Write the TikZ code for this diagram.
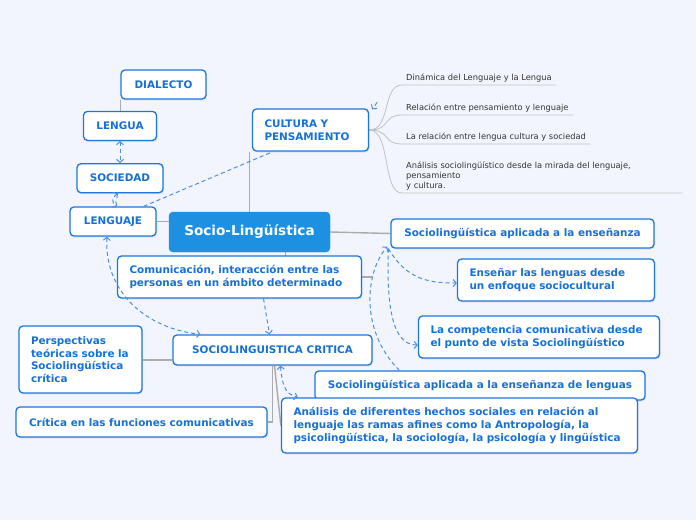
\documentclass[tikz,border=0pt]{standalone}
\usepackage{fontspec}
\setmainfont{DejaVu Sans}
\usetikzlibrary{arrows.meta,positioning,backgrounds,shadows}
\definecolor{pagebg}{HTML}{F2F5FD}
\definecolor{boxborder}{HTML}{1B77DD}
\definecolor{boxtext}{HTML}{1570DA}
\definecolor{rootfill}{HTML}{1E90E2}
\definecolor{relline}{HTML}{4A8FE2}
\definecolor{branchc}{HTML}{ABABAB}
\definecolor{leafline}{HTML}{C2C2C2}
\definecolor{leaftext}{HTML}{333333}

\begin{document}
\begin{tikzpicture}[
  x=1pt, y=-1pt,
  >={Straight Barb[length=3pt,width=7pt,line width=1pt]},
  topic/.style={
    draw=boxborder,
    fill=white,
    line width=1.3pt,
    rounded corners=4pt,
    text=boxtext,
    font=\fontsize{10.4}{12.6}\selectfont\bfseries,
    inner xsep=12pt,
    inner ysep=0pt,
    minimum height=29pt,
    align=center,
    drop shadow={opacity=0.15, shadow xshift=1pt, shadow yshift=-1.5pt}
  },
  multi/.style={
    topic,
    align=left,
    text width=#1
  },
  root/.style={
    draw=rootfill,
    fill=rootfill,
    rounded corners=4pt,
    text=white,
    font=\fontsize{13.6}{16}\selectfont\bfseries,
    minimum width=161pt,
    minimum height=40pt
  },
  leaf/.style={
    anchor=south west,
    font=\fontsize{8.3}{10}\selectfont,
    text=leaftext,
    inner xsep=4pt,
    inner ysep=3pt,
    align=left
  },
  rel/.style={
    draw=relline,
    line width=1pt,
    dash pattern=on 4pt off 3pt
  },
  branch/.style={
    draw=branchc,
    line width=1.4pt
  },
  twig/.style={
    draw=leafline,
    line width=0.8pt
  }
]

% --- Root ---
\node[root] (central) at (249.5,232) {Socio-Lingüística};

% --- Left column ---
\node[topic, minimum width=86pt] (lenguaje) at (113,221.5) {LENGUAJE};
\node[topic, minimum width=86pt, above=13pt of lenguaje, xshift=7pt] (sociedad) {SOCIEDAD};
\node[topic, minimum width=73pt, above=22pt of sociedad] (lengua) {LENGUA};
\node[topic, minimum width=85pt] (dialecto) at (163.5,84.5) {DIALECTO};

% --- Cultura y pensamiento ---
\node[multi=92pt, minimum height=42pt] (cultura) at (310.5,130) {CULTURA Y\\PENSAMIENTO};

\node[leaf] (leafA) at (402,85) {Dinámica del Lenguaje y la Lengua};
\node[leaf] (leafB) at (402,115) {Relación entre pensamiento y lenguaje};
\node[leaf] (leafC) at (402,144) {La relación entre lengua cultura y sociedad};
\node[leaf, text width=272pt] (leafD) at (402,193)
  {Análisis sociolingüístico desde la mirada del lenguaje,\\pensamiento\\y cultura.};

% --- Centre column ---
\node[multi=220pt, minimum height=42pt] (comunic) at (239.5,277)
  {Comunicación, interacción entre las\\personas en un ámbito determinado};
\node[topic, minimum width=199pt, minimum height=30pt] (critica) at (272.5,350) {SOCIOLINGUISTICA CRITICA};
\node[multi=99pt, minimum height=67pt] (perspect) at (80.5,359.5)
  {Perspectivas\\teóricas sobre la\\Sociolingüística\\crítica};
\node[topic, minimum width=251pt, minimum height=30pt] (funciones) at (141.5,422)
  {Crítica en las funciones comunicativas};

% --- Right column ---
\node[topic, minimum width=263pt] (aplic) at (522.5,233.5) {Sociolingüística aplicada a la enseñanza};
\node[multi=173pt, minimum height=42pt] (ensenar) at (556,280)
  {Enseñar las lenguas desde\\un enfoque sociocultural};
\node[multi=217pt, minimum height=42pt] (competencia) at (539,337)
  {La competencia comunicativa desde\\el punto de vista Sociolingüístico};
\node[topic, minimum width=330pt] (aplicleng) at (480,385.5)
  {Sociolingüística aplicada a la enseñanza de lenguas};
\node[multi=332pt, minimum height=55pt] (analisis) at (459.5,425.5)
  {Análisis de diferentes hechos sociales en relación al\\lenguaje las ramas afines como la Antropología, la\\psicolingüística, la sociología, la psicología y lingüística};

% --- Tree branches (behind the boxes) ---
\begin{scope}[on background layer]
  \fill[pagebg] (0,0) rectangle (696,520);
  \draw[branch] (lenguaje.east) -- (lenguaje.east -| central.west);
  \draw[branch] (dialecto.south west) -- (dialecto.south west |- lengua.north);
  \draw[branch] (central.north) -- (central.north |- cultura.south);
  \draw[branch] (central.east) -- (aplic.west);
  \draw[branch] ([xshift=36pt]central.south) |- ([xshift=10pt]comunic.east);
  \draw[branch] ([yshift=-10pt]critica.west) -- ([yshift=-10pt]critica.west -| perspect.east);
  \draw[branch] (critica.south) |- (funciones.east);
  \draw[branch] ([xshift=2pt]critica.south) -- (analisis.west);

  \draw[twig] (cultura.east) .. controls +(22,0) and +(-20,0) .. (leafA.south west) -- (leafA.south east);
  \draw[twig] (cultura.east) .. controls +(22,0) and +(-20,0) .. (leafB.south west) -- (leafB.south east);
  \draw[twig] (cultura.east) .. controls +(22,0) and +(-20,0) .. (leafC.south west) -- (leafC.south east);
  \draw[twig] (cultura.east) .. controls +(22,0) and +(-20,0) .. (leafD.south west) -- (leafD.south east);
\end{scope}

% --- Relations (dashed) ---
\draw[rel,<->] (lengua) -- (sociedad);
\draw[rel,<->] ([xshift=-2pt]sociedad.south) .. controls +(-6,4) and +(-6,-4) .. ([xshift=4pt]lenguaje.north);
\draw[rel] ([xshift=-13pt]lenguaje.north east) -- ([xshift=21pt]cultura.south west);
\draw[rel,<->] ([xshift=-6pt]lenguaje.south) .. controls +(-3,55) and +(-55,-6) .. ([xshift=-72pt]critica.north);
\draw[rel,->] ([xshift=24pt]comunic.south) -- ([xshift=-3pt]critica.north);
\draw[rel,<->] ([xshift=8pt]critica.south) .. controls +(2,25) and +(-10,-3) .. ([xshift=17pt]analisis.north west);
\draw[rel,->] ([xshift=-2pt]aplic.south west) .. controls +(18,30) and +(-30,0) .. ([yshift=-3pt]ensenar.west);
\draw[rel,->] ([xshift=-2pt]aplic.south west) .. controls +(-2,60) and +(-25,0) .. ([yshift=-8pt]competencia.west);
\draw[rel,->] ([xshift=85pt]aplicleng.north west) .. controls +(-40,-40) and +(-22,25) .. ([xshift=-3pt,yshift=2pt]aplic.south west);
\draw[rel,->] ([xshift=8pt,yshift=6pt]cultura.north east) -- ([xshift=3pt,yshift=-1pt]cultura.north east);

\end{tikzpicture}
\end{document}
